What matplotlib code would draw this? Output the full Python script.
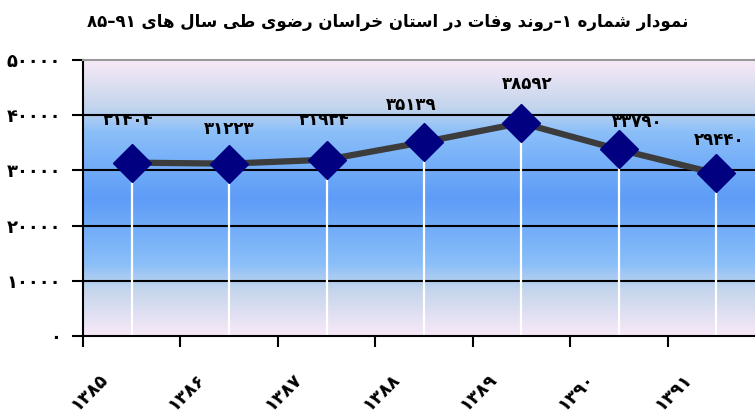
import re
import numpy as np
import matplotlib
matplotlib.use("Agg")
import matplotlib.pyplot as plt
from matplotlib.colors import LinearSegmentedColormap

plt.rcParams['font.family'] = ['DejaVu Sans']

# data
years = ["1385", "1386", "1387", "1388", "1389", "1390", "1391"]
deaths = [31404, 31223, 31934, 35139, 38592, 33790, 29440]
y_ticks = [0, 10000, 20000, 30000, 40000, 50000]
title = "نمودار شماره 1–روند وفات در استان خراسان رضوی طی سال های 91–85"

FA_DIGITS = str.maketrans("0123456789", "۰۱۲۳۴۵۶۷۸۹")


def fa(s):
    return str(s).translate(FA_DIGITS)


# contextual forms: isolated, final, initial, medial
FORMS = {
    "ا": (0xFE8D, 0xFE8E, None, None),
    "ت": (0xFE95, 0xFE96, 0xFE97, 0xFE98),
    "خ": (0xFEA5, 0xFEA6, 0xFEA7, 0xFEA8),
    "د": (0xFEA9, 0xFEAA, None, None),
    "ر": (0xFEAD, 0xFEAE, None, None),
    "س": (0xFEB1, 0xFEB2, 0xFEB3, 0xFEB4),
    "ش": (0xFEB5, 0xFEB6, 0xFEB7, 0xFEB8),
    "ض": (0xFEBD, 0xFEBE, 0xFEBF, 0xFEC0),
    "ط": (0xFEC1, 0xFEC2, 0xFEC3, 0xFEC4),
    "ف": (0xFED1, 0xFED2, 0xFED3, 0xFED4),
    "ل": (0xFEDD, 0xFEDE, 0xFEDF, 0xFEE0),
    "م": (0xFEE1, 0xFEE2, 0xFEE3, 0xFEE4),
    "ن": (0xFEE5, 0xFEE6, 0xFEE7, 0xFEE8),
    "ه": (0xFEE9, 0xFEEA, 0xFEEB, 0xFEEC),
    "و": (0xFEED, 0xFEEE, None, None),
    "ی": (0xFEEF, 0xFEF0, 0xFEF3, 0xFEF4),
}


def shape(text):
    out = []
    for i, ch in enumerate(text):
        if ch not in FORMS:
            out.append(ch)
            continue
        prev = text[i - 1] if i > 0 else ""
        nxt = text[i + 1] if i + 1 < len(text) else ""
        join_prev = prev in FORMS and FORMS[prev][2] is not None
        join_next = nxt in FORMS and FORMS[ch][2] is not None
        iso, fin, ini, med = FORMS[ch]
        if join_prev and join_next:
            out.append(chr(med))
        elif join_prev:
            out.append(chr(fin))
        elif join_next:
            out.append(chr(ini))
        else:
            out.append(chr(iso))
    vis = "".join(out)[::-1]
    vis = re.sub(r"[0-9]+", lambda m: m.group(0)[::-1], vis)
    return fa(vis)


W, H = 755, 418
fig = plt.figure(figsize=(W / 100, H / 100), dpi=100)
ax = fig.add_axes([83 / W, (H - 336) / H, (765 - 83) / W, (336 - 60) / H])

x = np.arange(len(deaths))
ax.set_xlim(-0.5, len(deaths) - 0.5)
ax.set_ylim(0, 50000)

# gradient background
cmap = LinearSegmentedColormap.from_list("bg", [
    (0.0, "#f8e9f7"), (0.17, "#c3d5ec"), (0.26, "#8bbff9"),
    (0.5, "#5d9cf7"), (0.74, "#8bbff9"), (0.83, "#c3d5ec"), (1.0, "#f8e9f7")])
grad = np.linspace(0, 1, 256).reshape(-1, 1)
ax.imshow(grad, cmap=cmap, aspect="auto", extent=(-0.5, len(deaths) - 0.5, 0, 50000),
          origin="upper", zorder=0)

for yt in y_ticks[1:-1]:
    ax.axhline(yt, color="black", lw=1.5, zorder=1)

ax.vlines(x, 0, deaths, color="white", lw=1.6, zorder=2)
ax.plot(x, deaths, color="#3c3c3c", lw=4.5, zorder=3, solid_capstyle="butt")
ax.plot(x, deaths, ls="none", marker="D", ms=19.5, mfc="#000080", mec="#000080", zorder=4)

label_dx = [-4, 0, -2, -13, 6, 18, 3]
label_dy = [43, 35, 40, 37, 39, 27, 33]
for xi, v, dx, dy in zip(x, deaths, label_dx, label_dy):
    ax.annotate(fa(v), (xi, v), xytext=(dx, dy), textcoords="offset pixels",
                ha="center", va="center", fontsize=12, fontweight="bold", zorder=5)

ax.set_yticks(y_ticks)
ax.set_yticklabels([fa(t) for t in y_ticks], fontsize=13, fontweight="bold")
ax.tick_params(axis="y", length=8, width=1.5, pad=8)

ax.set_xticks(np.arange(len(deaths) + 1) - 0.5)
ax.set_xticklabels([])
ax.tick_params(axis="x", length=8, width=1.5)
for i, yr in enumerate(years):
    ax.annotate(fa(yr), (i - 0.5, 0), xytext=(6, -56), textcoords="offset pixels",
                ha="center", va="center", rotation=45, fontsize=13, fontweight="bold",
                annotation_clip=False)

for side in ["left", "bottom"]:
    ax.spines[side].set_linewidth(1.5)
ax.spines["top"].set_color("#999999")
ax.spines["top"].set_linewidth(1.5)
ax.spines["right"].set_visible(False)

fig.text(388 / W, 1 - 22 / H, shape(title), ha="center", va="center",
         fontsize=12, fontweight="bold")

fig.savefig("out.png", dpi=100)
